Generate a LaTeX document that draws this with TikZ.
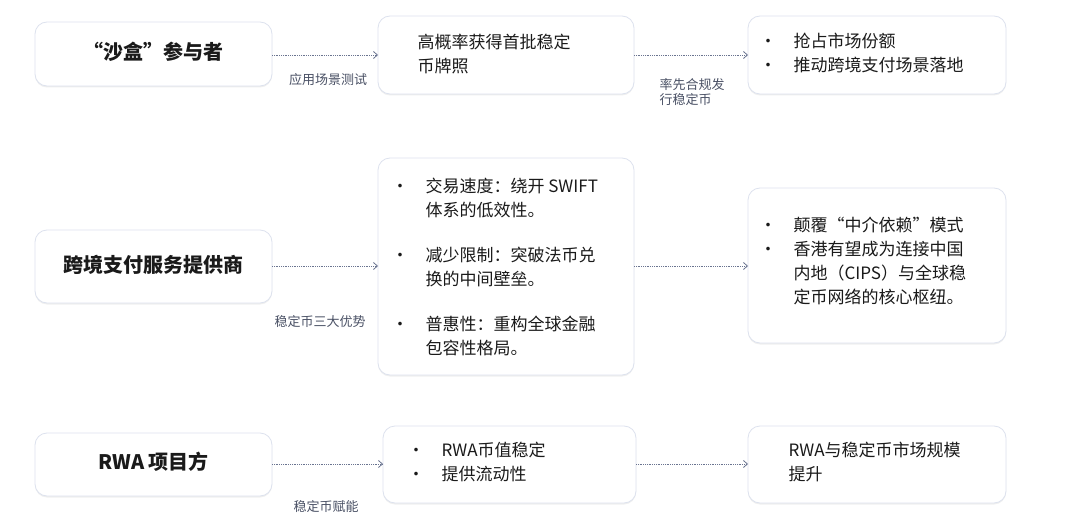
\documentclass[tikz,border=0pt]{standalone}
\usepackage{fontspec}
\setmainfont{Noto Sans CJK SC}
\usetikzlibrary{arrows.meta,shadows}
\definecolor{bd}{HTML}{DDE2EE}
\definecolor{ar}{HTML}{6A7490}
\definecolor{tx}{HTML}{1A1A1A}
\begin{document}
\begin{tikzpicture}[x=1pt,y=-1pt,
  box/.style={draw=bd,line width=0.8pt,rounded corners=12pt,fill=white,drop shadow={shadow xshift=0pt,shadow yshift=-1.5pt,opacity=0.12}},
  conn/.style={draw=ar,densely dotted,line width=0.8pt,-{Straight Barb[length=4pt,width=7pt]}},
  lab/.style={font=\fontsize{13}{15}\selectfont,text=ar!70!black,align=left},
  bt/.style={font=\fontsize{17}{24}\selectfont,text=tx,align=left,anchor=north west}]
\useasboundingbox (0,0) rectangle (1080,524);
\fill[white] (0,0) rectangle (1080,524);
% boxes
\path[box] (35,22) rectangle (272,86);
\path[box] (378,16) rectangle (634,94);
\path[box] (748,16) rectangle (1006,94);
\path[box] (35,230) rectangle (272,303);
\path[box] (378,158) rectangle (634,375);
\path[box] (748,188) rectangle (1006,343);
\path[box] (35,433) rectangle (272,496);
\path[box] (383,426) rectangle (636,503);
\path[box] (748,426) rectangle (1006,503);
% anchors
\coordinate (r1) at (272,55); \coordinate (m1l) at (378,55);
\coordinate (m1r) at (634,55); \coordinate (e1) at (748,55);
\coordinate (r2) at (272,266); \coordinate (m2l) at (378,266);
\coordinate (m2r) at (634,266); \coordinate (e2) at (748,266);
\coordinate (r3) at (272,464); \coordinate (m3l) at (383,464);
\coordinate (m3r) at (636,464); \coordinate (e3) at (748,464);
\draw[conn] (r1) -- (m1l); \draw[conn] (m1r) -- (e1);
\draw[conn] (r2) -- (m2l); \draw[conn] (m2r) -- (e2);
\draw[conn] (r3) -- (m3l); \draw[conn] (m3r) -- (e3);
% titles
\node[font=\fontsize{20}{24}\selectfont\bfseries,text=tx] (t1) at (153.5,52) {“沙盒”参与者};
\node[font=\fontsize{20}{24}\selectfont\bfseries,text=tx] (t2) at (153.5,265) {跨境支付服务提供商};
\node[font=\fontsize{20}{24}\selectfont\bfseries,text=tx] (t3) at (153.5,462) {RWA 项目方};
% labels
\node[lab] (l1) at (328,80) {应用场景测试};
\node[lab,align=left] (l2) at (692,92) {率先合规发\\行稳定币};
\node[lab] (l3) at (320,322) {稳定币三大优势};
\node[lab] (l4) at (326,507) {稳定币赋能};
% texts
\node[bt] (x1) at (414,31) {高概率获得首批稳定\\币牌照};
\node[bt] (x2) at (756,30) {•\quad 抢占市场份额\\•\quad 推动跨境支付场景落地};
\node[bt] (x3) at (388,175) {•\quad 交易速度：绕开 SWIFT\\\phantom{•}\quad 体系的低效性。\\[21pt]•\quad 减少限制：突破法币兑\\\phantom{•}\quad 换的中间壁垒。\\[21pt]•\quad 普惠性：重构全球金融\\\phantom{•}\quad 包容性格局。};
\node[bt] (x4) at (756,214) {•\quad 颠覆“中介依赖”模式\\•\quad 香港有望成为连接中国\\\phantom{•}\quad 内地（CIPS）与全球稳\\\phantom{•}\quad 定币网络的核心枢纽。};
\node[bt] (x5) at (404,439) {•\quad RWA币值稳定\\•\quad 提供流动性};
\node[bt] (x6) at (785,439) {RWA与稳定币市场规模\\提升};
\end{tikzpicture}
\end{document}
